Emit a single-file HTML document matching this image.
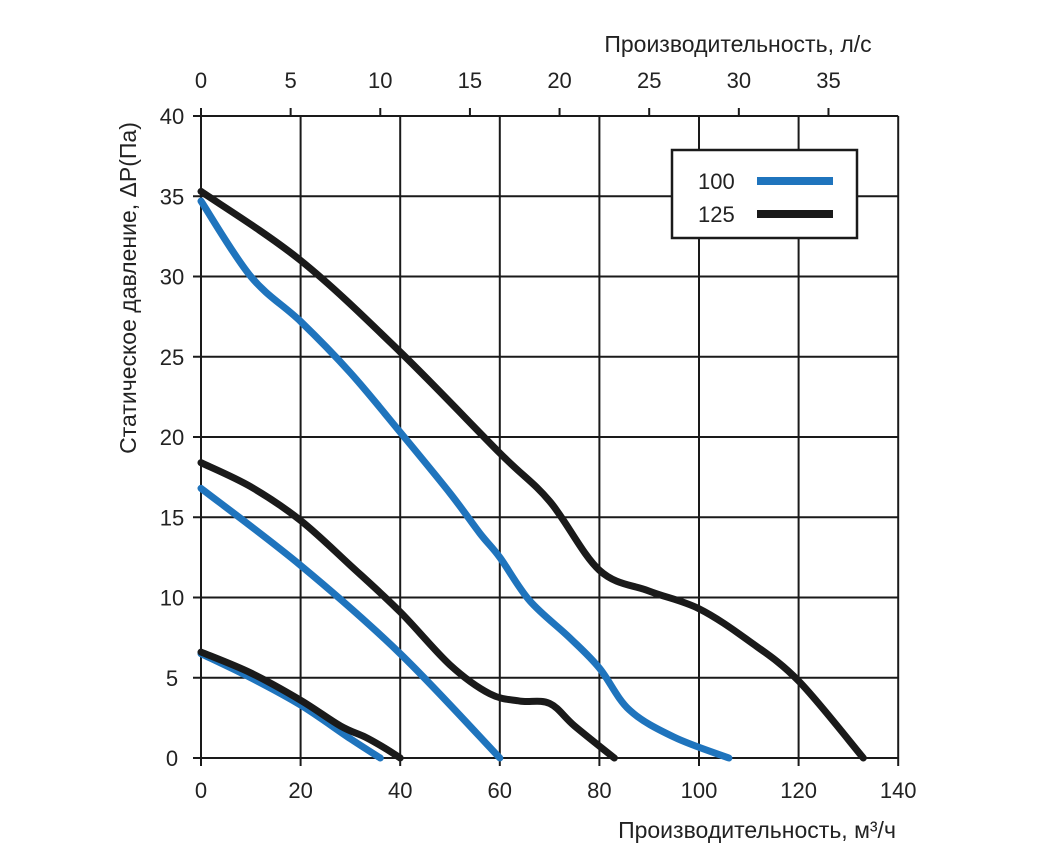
<!DOCTYPE html>
<html><head><meta charset="utf-8"><style>
body{margin:0;background:#fff;}
svg text{font-family:"Liberation Sans",sans-serif;fill:#222;}
</style></head><body>
<svg id="s" width="1044" height="854" xmlns="http://www.w3.org/2000/svg">
<rect width="1044" height="854" fill="#fff"/>
<g id="grid" stroke="#1a1a1a" stroke-width="2"></g>
<g id="curves" fill="none" stroke-linecap="round" stroke-linejoin="round"></g>
<g font-size="22" text-anchor="middle" id="lbl"></g>
<text x="738" y="52" font-size="23" text-anchor="middle">Производительность, л/с</text>
<text x="757" y="838" font-size="23" text-anchor="middle">Производительность, м³/ч</text>
<text transform="translate(136,288) rotate(-90)" font-size="23" text-anchor="middle">Статическое давление, ΔP(Па)</text>
<rect x="672" y="150" width="185" height="88" fill="#fff" stroke="#1a1a1a" stroke-width="2.5"/>
<text x="698" y="189" font-size="22">100</text>
<text x="698" y="222" font-size="22">125</text>
<line x1="757" y1="181" x2="833" y2="181" stroke="#1f74bd" stroke-width="8"/>
<line x1="757" y1="214" x2="833" y2="214" stroke="#1a1a1a" stroke-width="8"/>
</svg>
<script>
var X=v=>201+v*4.98, Y=p=>758-p*16.05, NS="http://www.w3.org/2000/svg";
var g=document.getElementById('grid'),l=document.getElementById('lbl'),c=document.getElementById('curves');
function el(p,t,a,txt){var e=document.createElementNS(NS,t);for(var k in a)e.setAttribute(k,a[k]);if(txt!=null)e.textContent=txt;p.appendChild(e);}
for(var i=0;i<=7;i++){var x=X(i*20);el(g,'line',{x1:x,y1:Y(40),x2:x,y2:Y(0)+8});el(l,'text',{x:x,y:798},i*20);}
for(var j=0;j<=8;j++){var y=Y(j*5);el(g,'line',{x1:X(0)-8,y1:y,x2:X(140),y2:y});el(l,'text',{x:172,y:y+8},j*5);}
for(var k=0;k<=7;k++){var x=X(k*5*3.6);el(g,'line',{x1:x,y1:Y(40),x2:x,y2:Y(40)-8});el(l,'text',{x:x,y:88},k*5);}
function path(pts){var P=pts.map(p=>[X(p[0]),Y(p[1])]);var d='M'+P[0][0]+','+P[0][1];
for(var i=0;i<P.length-1;i++){var p0=P[i-1]||P[i],p1=P[i],p2=P[i+1],p3=P[i+2]||p2;
d+=' C'+(p1[0]+(p2[0]-p0[0])/6)+','+(p1[1]+(p2[1]-p0[1])/6)+' '+(p2[0]-(p3[0]-p1[0])/6)+','+(p2[1]-(p3[1]-p1[1])/6)+' '+p2[0]+','+p2[1];}return d;}
var B='#1f74bd',K='#1a1a1a';
var S=[
[K,[[0,35.3],[20,31],[40,25.3],[60,19],[70,16],[80,11.7],[90,10.4],[100,9.3],[110,7.3],[120,4.8],[133,0]]],
[B,[[0,34.7],[10,30],[20,27.2],[30,24],[40,20.3],[50,16.5],[56,14],[60,12.5],[66,9.8],[74,7.5],[80,5.6],[86,3],[95,1.3],[106,0]]],
[K,[[0,18.4],[10,16.9],[20,14.8],[30,12],[40,9.1],[50,5.8],[58,4],[64,3.55],[70,3.4],[75,2],[83,0]]],
[B,[[0,16.8],[20,12],[40,6.5],[60,0]]],
[B,[[0,6.5],[10,5],[20,3.3],[30,1.2],[36,0]]],
[K,[[0,6.6],[10,5.3],[20,3.6],[28,2],[33,1.3],[37,0.6],[40,0]]]
];
S.forEach(s=>el(c,'path',{d:path(s[1]),stroke:s[0],'stroke-width':7}));
</script>
</body></html>
